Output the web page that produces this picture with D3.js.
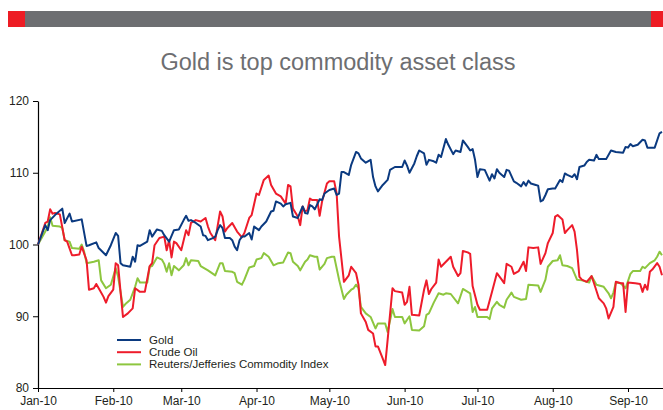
<!DOCTYPE html>
<html>
<head>
<meta charset="utf-8">
<script src="https://cdn.jsdelivr.net/npm/d3@7"></script>
<style>
  html, body { margin: 0; padding: 0; background: #fff; }
  svg { display: block; font-family: "Liberation Sans", Arial, Helvetica, sans-serif; }
</style>
</head>
<body>
<svg id="chart" width="663" height="410"></svg>
<script>
// Days since 1 Jan 2010 and index levels (1 Jan 2010 = 100)
const goldDays = [0,3,4,5,7,10,11,13,14,18,20,21,24,25,28,30,32,33,34,35,38,39,40,41,42,45,46,47,49,51,52,54,56,58,60,61,62,63,65,67,68,69,70,72,73,74,75,76,77,79,80,81,82,83,84,85,87,88,89,91,92,94,96,97,98,100,101,102,104,105,107,109,110,111,112,113,114,116,117,118,120,122,123,124,125,126,128,129,131,132,133,135,137,138,139,140,142,144,145,147,150,151,152,153,155,156,157,159,160,161,163,164,165,166,168,169,171,172,174,175,177,178,179,180,181,182,184,186,187,188,189,190,192,193,194,196,197,199,200,201,202,203,205,206,207,208,209,210,212,213,215,216,217,218,220,221,222,223,225,226,227,229,230,231,234,236,238,241,242,243,244,245,247,249,250,251,254,256,257];
const gold = [100,102.7,102.0,103.4,104.1,105.0,103.0,104.3,103.2,103.5,99.8,99.9,100.3,99.5,98.5,99.9,101.6,101.2,97.4,97.1,96.9,98.3,97.6,99.9,99.8,100.4,102.0,101.1,102.1,101.9,101.3,100.4,102.0,102.1,103.4,104.0,103.3,103.4,103.0,102.5,101.3,101.2,100.6,100.9,101.1,102.0,102.7,102.3,100.9,100.9,100.6,99.7,99.2,100.6,101.1,101.1,101.6,100.7,102.5,102.0,102.5,103.2,104.6,104.7,106.0,105.7,105.3,105.6,105.8,103.9,103.7,105.3,104.4,104.3,105.5,105.3,104.9,106.3,106.2,107.1,107.6,107.8,106.9,107.1,110.1,110.1,109.7,111.1,112.9,112.7,112.0,111.4,111.8,109.4,108.1,107.4,108.3,109.0,110.4,110.8,110.8,111.7,111.0,110.0,111.3,112.3,113.1,112.7,111.1,111.8,111.6,111.4,112.5,112.2,114.7,113.9,112.6,113.1,112.9,114.5,113.6,113.1,113.3,111.8,109.4,110.5,110.4,108.9,109.8,109.2,110.5,110.0,109.4,110.4,110.3,108.8,108.6,108.1,108.7,108.2,108.9,108.5,108.3,108.2,106.0,106.2,106.9,107.7,107.8,107.8,109.0,108.7,109.9,109.7,109.4,109.8,109.1,110.8,111.0,111.5,111.8,111.7,112.5,111.9,111.9,113.1,112.9,112.8,113.6,113.5,114.0,113.7,113.9,114.6,114.5,113.5,113.5,115.5,115.7];

const oilDays = [0,3,4,5,6,7,9,11,12,14,15,17,18,20,21,23,24,25,27,28,29,31,32,33,34,35,37,39,40,42,44,46,47,48,50,52,53,54,55,56,57,59,60,61,62,63,65,67,69,70,71,73,75,76,77,78,80,82,84,85,87,88,90,91,93,95,96,98,100,102,103,104,105,107,108,109,110,111,112,113,115,116,117,119,120,122,123,124,126,128,129,131,132,133,135,136,138,139,140,142,143,144,146,147,150,151,152,153,154,157,159,160,161,162,164,165,166,168,170,171,173,174,175,177,178,179,181,182,185,187,189,191,192,193,195,196,198,200,201,202,204,206,207,209,210,212,213,214,216,217,218,220,221,222,223,224,226,228,229,231,233,234,235,237,238,240,241,242,243,246,248,249,250,251,252,253,255,256,257];
const oil = [100,103.0,103.2,104.9,104.3,104.4,104.2,100.6,100.4,98.5,98.5,98.6,99.7,97.8,93.7,93.9,94.5,93.9,92.7,91.9,92.8,93.7,97.4,97.1,93.4,89.9,90.4,91.1,93.9,93.4,93.4,97.0,97.4,99.9,100.9,101.1,99.2,100.6,98.2,100.4,100.2,99.2,100.6,102.0,101.3,103.0,103.4,103.2,103.7,102.5,101.6,100.6,104.6,103.9,101.8,102.3,103.0,101.8,101.0,101.6,103.7,104.1,107.1,106.9,109.0,109.6,108.3,107.1,106.7,105.7,108.3,108.1,105.0,103.9,102.7,105.3,104.6,104.8,106.4,106.2,106.2,104.0,106.0,108.5,108.8,108.8,107.1,101.1,94.8,95.7,96.9,96.0,94.4,90.4,89.2,88.1,87.6,85.8,85.8,84.1,83.2,86.7,93.9,93.5,93.3,91.6,92.0,94.1,90.2,90.1,93.7,95.0,93.1,93.8,94.7,97.9,96.9,97.6,98.3,96.9,95.6,96.0,99.1,98.9,98.7,94.2,91.6,90.9,90.9,93.4,96.0,95.1,94.6,97.3,96.9,95.9,96.3,97.6,96.3,99.6,99.5,99.6,97.3,98.8,100.2,101.6,103.9,104.1,103.5,101.6,102.0,102.7,101.8,99.2,95.5,95.1,94.8,95.6,94.6,92.5,91.8,91.1,89.7,91.3,94.8,94.6,94.6,90.6,94.7,94.6,94.5,93.4,94.4,93.7,96.2,96.5,97.4,96.9,95.7];

const rjDays = [0,3,4,5,6,9,10,11,13,14,17,18,19,20,23,25,26,28,30,32,33,35,36,38,40,41,42,45,46,47,49,51,52,53,54,55,56,58,60,61,62,63,66,67,70,73,75,76,77,80,81,82,84,85,87,89,90,92,93,95,97,99,101,103,104,105,107,108,110,111,112,114,115,116,118,119,121,122,124,126,127,129,130,131,132,133,135,137,139,140,143,144,146,147,150,151,153,154,157,159,160,161,163,165,167,168,170,173,175,177,178,179,180,181,185,186,187,189,190,192,193,195,196,199,201,202,206,207,209,210,212,214,215,216,218,220,222,224,227,228,230,233,235,236,237,238,240,242,244,245,248,249,250,252,254,255,256,257];
const rj = [100,101.8,102.5,103.8,102.6,102.5,102.3,100.6,100.4,99.5,99.4,100.0,99.0,97.4,97.6,97.8,95.0,93.9,94.4,96.7,95.5,91.3,91.7,92.3,94.1,95.3,94.7,94.7,96.9,97.0,98.2,97.9,97.3,96.2,97.4,95.7,97.0,96.4,97.1,98.1,97.1,97.8,97.7,97.0,96.4,95.7,97.4,97.4,96.3,96.2,96.0,94.8,94.4,95.1,96.8,97.0,97.9,98.1,98.8,98.3,97.1,97.4,97.5,98.9,98.8,97.6,97.0,96.4,97.6,97.9,98.5,98.3,98.3,96.5,97.3,98.1,98.3,98.3,95.1,92.4,93.0,93.7,93.9,94.4,93.9,91.3,90.4,89.9,88.3,89.0,89.0,87.8,91.0,89.9,89.9,89.0,90.0,88.1,88.0,88.6,90.2,90.4,91.9,93.2,93.0,93.2,93.1,91.8,93.8,93.4,93.2,90.6,91.3,89.9,89.9,89.6,91.1,92.0,91.6,91.2,92.3,93.3,92.7,92.3,92.4,94.4,94.3,93.4,95.1,96.9,97.7,97.8,98.5,97.1,97.0,96.7,95.1,95.0,94.7,95.6,94.4,94.1,93.2,92.5,93.3,94.7,94.6,93.9,95.9,96.3,96.3,96.9,96.7,97.4,97.8,98.3,99.0,98.5];

const seriesNames = ["Gold", "Crude Oil", "Reuters/Jefferies Commodity Index"];
const seriesColors = ["#0b3a80", "#ee1c2b", "#8dc63f"];
const yTicks = [80, 90, 100, 110, 120];
const titleText = "Gold is top commodity asset class";

const base = new Date(2010, 0, 1);
const toDate = d => d3.timeDay.offset(base, d);
const series = [
  { name: seriesNames[0], color: seriesColors[0], pts: goldDays.map((d, i) => [toDate(d), gold[i]]) },
  { name: seriesNames[1], color: seriesColors[1], pts: oilDays.map((d, i) => [toDate(d), oil[i]]) },
  { name: seriesNames[2], color: seriesColors[2], pts: rjDays.map((d, i) => [toDate(d), rj[i]]) }
];

const svg = d3.select("#chart");
const W = 663;

// Header band: grey bar with red end caps
svg.append("rect").attr("x", 8).attr("y", 11).attr("width", W - 8).attr("height", 16).attr("fill", "#6d6e71");
svg.append("rect").attr("x", 8).attr("y", 11).attr("width", 17).attr("height", 16).attr("fill", "#ed1c24");
svg.append("rect").attr("x", 651).attr("y", 11).attr("width", 12).attr("height", 16).attr("fill", "#ed1c24");

svg.append("text")
  .attr("x", 338).attr("y", 70)
  .attr("text-anchor", "middle")
  .attr("font-size", 23.5)
  .attr("fill", "#6d6e71")
  .text(titleText);

const x = d3.scaleTime()
  .domain([base, new Date(2010, 8, 15, 10)])
  .range([38, 663]);
const y = d3.scaleLinear().domain([80, 120]).range([388, 101]);

const xAxis = svg.append("g")
  .attr("transform", `translate(0,${y(80)})`)
  .call(d3.axisBottom(x)
    .ticks(d3.timeMonth.every(1))
    .tickFormat(d3.timeFormat("%b-%y"))
    .tickSizeInner(4).tickSizeOuter(0).tickPadding(4));

const yAxis = svg.append("g")
  .attr("transform", `translate(${x(base)},0)`)
  .call(d3.axisLeft(y).tickValues(yTicks).tickSizeInner(5).tickSizeOuter(0).tickPadding(4));

[xAxis, yAxis].forEach(g => {
  g.select(".domain").attr("stroke", "#000").attr("stroke-width", 1.2);
  g.selectAll(".tick line").attr("stroke", "#000").attr("stroke-width", 1);
  g.selectAll(".tick text")
    .attr("font-size", 12)
    .attr("fill", "#231f20")
    .attr("font-family", "\"Liberation Sans\", Arial, sans-serif");
});

const line = d3.line().x(p => x(p[0])).y(p => y(p[1]));

// Draw green first, then red, then gold on top
[series[2], series[1], series[0]].forEach(s => {
  svg.append("path")
    .datum(s.pts)
    .attr("fill", "none")
    .attr("stroke", s.color)
    .attr("stroke-width", 2)
    .attr("stroke-linejoin", "round")
    .attr("d", line);
});

// Legend
const legend = svg.append("g").attr("transform", "translate(117,340)");
series.forEach((s, i) => {
  const g = legend.append("g").attr("transform", `translate(0,${i * 12.2})`);
  g.append("line").attr("x1", 0).attr("x2", 24).attr("y1", 0).attr("y2", 0)
    .attr("stroke", s.color).attr("stroke-width", 2);
  g.append("text").attr("x", 32).attr("y", 4)
    .attr("font-size", 11.5).attr("fill", "#231f20")
    .text(s.name);
});
</script>
</body>
</html>
